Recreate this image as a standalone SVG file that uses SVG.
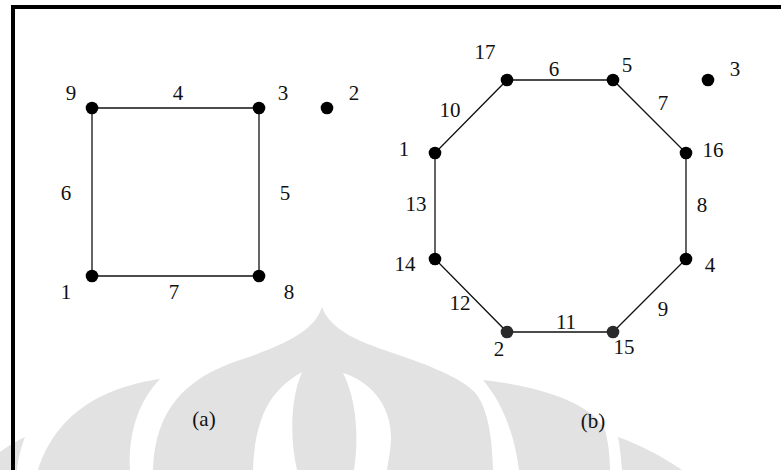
<svg xmlns="http://www.w3.org/2000/svg" width="781" height="470" viewBox="0 0 781 470">
<style>
.t{font-family:"Liberation Serif","Times New Roman",serif;font-size:21px;fill:#111;text-anchor:middle}
.e{stroke:#111;stroke-width:1.3;fill:none}
.n{fill:#000}
.wm{fill:#e2e2e2}
.wh{fill:#fff}
</style>
<rect width="781" height="470" fill="#fff"/>
<g id="watermark">
<path class="wm" d="M0,452 C8,446 16,441 25,437 C20,450 18,460 17,470 L0,470 Z"/>
<path class="wm" d="M160,379 C120,385 60,402 38,470 L130,470 C128,430 140,400 160,379 Z"/>
<path class="wm" d="M322,307 C316,325 300,340 240,360 C185,378 155,410 153,470 L493,470 C492,430 486,400 470,388 C455,375 420,362 390,352 C360,342 330,330 322,307 Z"/>
<path class="wh" d="M302,372 C280,385 255,405 253,470 L297,470 C290,440 290,400 302,372 Z"/>
<path class="wh" d="M343,373 C375,383 392,410 391,440 C390,455 388,462 387,470 L354,470 C359,440 357,400 343,373 Z"/>
<path class="wm" d="M483,380 C530,385 590,400 605,430 C609,445 610,460 610,470 L519,470 C514,430 500,400 483,380 Z"/>
<path class="wm" d="M618,437 C640,445 660,455 682,470 L622,470 C621,458 620,447 618,437 Z"/>
</g>
<g id="border" fill="none" stroke="#000">
<line x1="11" y1="7" x2="781" y2="7" stroke-width="4"/>
<line x1="13" y1="5" x2="13" y2="470" stroke-width="4"/>
</g>
<g id="connectors">
<line class="e" x1="92" y1="108" x2="259" y2="108"/>
<line class="e" x1="92" y1="108" x2="92" y2="276"/>
<line class="e" x1="259" y1="108" x2="259" y2="276"/>
<line class="e" x1="92" y1="276" x2="259" y2="276"/>
<polygon class="e" points="507,80 613,80 686,153 686,259 613,332 507,332 435,259 435,153"/>
</g>
<g id="a-n9"><circle class="n" cx="92" cy="108" r="6.3"/><text class="t" x="71" y="100">9</text></g>
<g id="a-n3"><circle class="n" cx="259" cy="108" r="6.3"/><text class="t" x="283" y="100">3</text></g>
<g id="a-n2"><circle class="n" cx="327" cy="108" r="6.3"/><text class="t" x="354" y="100">2</text></g>
<g id="a-n1"><circle class="n" cx="92" cy="276" r="6.3"/><text class="t" x="66" y="299">1</text></g>
<g id="a-n8"><circle class="n" cx="259" cy="276" r="6.3"/><text class="t" x="289" y="299">8</text></g>
<g id="a-labels">
<text class="t" x="178" y="100">4</text>
<text class="t" x="66" y="200">6</text>
<text class="t" x="285" y="200">5</text>
<text class="t" x="174" y="299">7</text>
<text class="t" x="204" y="426">(a)</text>
</g>
<g id="b-n17"><circle class="n" cx="507" cy="80" r="6.3"/><text class="t" x="485" y="59">17</text></g>
<g id="b-n5"><circle class="n" cx="613" cy="80" r="6.3"/><text class="t" x="627" y="72">5</text></g>
<g id="b-n3"><circle class="n" cx="708" cy="80" r="6.3"/><text class="t" x="735" y="76">3</text></g>
<g id="b-n1"><circle class="n" cx="435" cy="153" r="6.3"/><text class="t" x="404" y="156">1</text></g>
<g id="b-n16"><circle class="n" cx="686" cy="153" r="6.3"/><text class="t" x="713" y="157">16</text></g>
<g id="b-n14"><circle class="n" cx="435" cy="259" r="6.3"/><text class="t" x="405" y="271">14</text></g>
<g id="b-n4"><circle class="n" cx="686" cy="259" r="6.3"/><text class="t" x="710" y="272">4</text></g>
<g id="b-n2"><circle fill="#2a2a2a" cx="507" cy="332" r="6.3"/><text class="t" x="499" y="356">2</text></g>
<g id="b-n15"><circle fill="#2a2a2a" cx="613" cy="332" r="6.3"/><text class="t" x="624" y="354">15</text></g>
<g id="b-labels">
<text class="t" x="554" y="76">6</text>
<text class="t" x="450" y="117">10</text>
<text class="t" x="663" y="110">7</text>
<text class="t" x="416" y="211">13</text>
<text class="t" x="702" y="212">8</text>
<text class="t" x="460" y="310">12</text>
<text class="t" x="663" y="316">9</text>
<text class="t" x="566" y="329">11</text>
<text class="t" x="593" y="428">(b)</text>
</g>
</svg>
